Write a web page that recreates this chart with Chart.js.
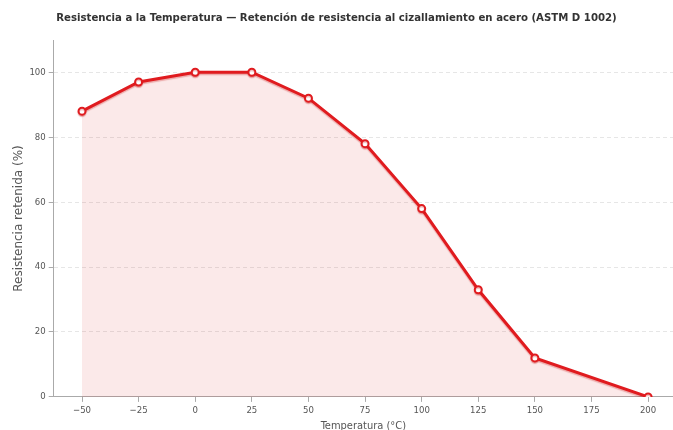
<!DOCTYPE html>
<html>
<head>
<meta charset="utf-8">
<script src="https://cdn.jsdelivr.net/npm/chart.js@4.4.1/dist/chart.umd.min.js"></script>
<style>
  html, body { margin: 0; padding: 0; background: #fff; }
  #wrap { width: 673px; height: 430px; }
</style>
</head>
<body>
<div id="wrap"><canvas id="chart" width="673" height="430"></canvas></div>
<script>
// temperatura (°C) y resistencia retenida (%)
const temps = [-50, -25, 0, 25, 50, 75, 100, 125, 150, 200];
const retained = [88, 97, 100, 100, 92, 78, 58, 33, 12, 0];

const chartTitle = 'Resistencia a la Temperatura \u2014 Retenci\u00f3n de resistencia al cizallamiento en acero (ASTM D 1002)';
const xTitle = 'Temperatura (\u00b0C)';
const yTitle = 'Resistencia retenida (%)';

const points = temps.map((t, i) => ({ x: t, y: retained[i] }));

const condensed = '"DejaVu Sans Condensed", "DejaVu Sans", sans-serif';

// soft shadow under the line, like the original
const lineShadow = {
  id: 'lineShadow',
  beforeDatasetDraw(chart) {
    const c = chart.ctx;
    c.save();
    c.shadowColor = 'rgba(200, 20, 20, 0.3)';
    c.shadowOffsetY = 1.5;
    c.shadowBlur = 1;
  },
  afterDatasetDraw(chart) {
    chart.ctx.restore();
  }
};

const ctx = document.getElementById('chart').getContext('2d');
new Chart(ctx, {
  type: 'line',
  data: {
    datasets: [{
      data: points,
      borderColor: '#e01b1f',
      borderWidth: 3,
      backgroundColor: 'rgba(220, 40, 40, 0.1)',
      fill: 'origin',
      tension: 0,
      pointRadius: 3.5,
      pointBorderWidth: 2,
      pointBackgroundColor: '#fff',
      pointBorderColor: '#e01b1f'
    }]
  },
  plugins: [lineShadow],
  options: {
    responsive: false,
    animation: false,
    layout: { autoPadding: false, padding: { left: 0, right: 0, top: 0, bottom: -2.5 } },
    plugins: {
      legend: { display: false },
      tooltip: { enabled: false },
      title: {
        display: true,
        text: chartTitle,
        color: '#333',
        font: { family: condensed, size: 11.3, weight: 'bold' },
        padding: { top: 11.5, bottom: 15 }
      }
    },
    scales: {
      x: {
        type: 'linear',
        min: -62.5,
        max: 211,
        ticks: {
          stepSize: 25,
          includeBounds: false,
          color: '#555',
          font: { family: condensed, size: 9.5 },
          padding: 3,
          maxRotation: 0,
          callback: v => String(v).replace('-', '\u2212')
        },
        grid: { drawOnChartArea: false, tickLength: 5, color: '#aaa' },
        border: { color: '#aaa', width: 1 },
        title: {
          display: true,
          text: xTitle,
          color: '#555',
          font: { family: condensed, size: 11 },
          padding: { top: 0, bottom: 0 }
        }
      },
      y: {
        min: 0,
        max: 109.9,
        ticks: {
          stepSize: 20,
          includeBounds: false,
          color: '#555',
          font: { family: condensed, size: 9.5 },
          padding: 3
        },
        grid: {
          color: '#e6e6e6',
          tickColor: '#aaa',
          tickLength: 5,
          tickBorderDash: []
        },
        border: { color: '#aaa', width: 1, dash: [4, 3] },
        title: {
          display: true,
          text: yTitle,
          color: '#555',
          font: { family: '"DejaVu Sans", sans-serif', size: 12 },
          padding: { top: 12, bottom: 0 }
        }
      }
    }
  }
});
</script>
</body>
</html>
